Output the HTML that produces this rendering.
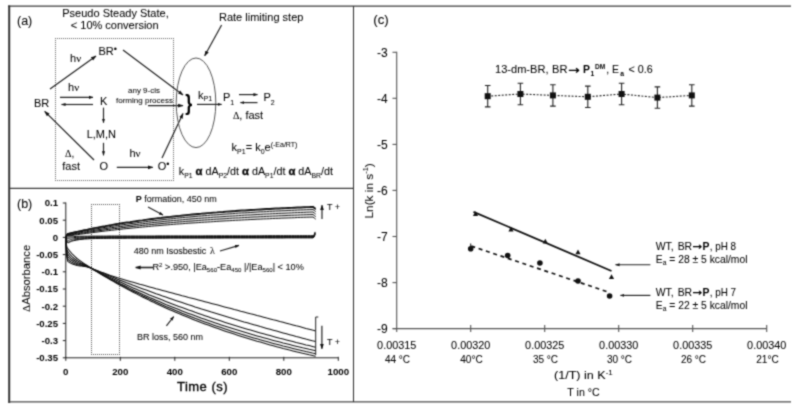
<!DOCTYPE html>
<html><head><meta charset="utf-8"><title>Figure</title>
<style>
html,body{margin:0;padding:0;background:#fff;}
body{width:800px;height:410px;overflow:hidden;}
svg{display:block;}
text{font-family:"Liberation Sans",sans-serif;fill:#000;stroke:#000;stroke-width:0.05px;}
.t11{font-size:11px;}
.t9{font-size:9px;}
.t8{font-size:8px;}
.t10{font-size:10px;}
.b{font-weight:bold;stroke-width:0;}
.bb{font-weight:bold;stroke-width:0.35px;font-size:11.5px;}
.dj{font-family:"DejaVu Sans",sans-serif;}
.sf{font-family:"Liberation Serif",serif;}
.sub{font-size:7px;}
.ln{stroke:#222;stroke-width:1;fill:none;}
</style></head><body>
<svg width="800" height="410" viewBox="0 0 800 410">
<defs>
<marker id="ah" viewBox="0 0 10 10" refX="9" refY="5" markerWidth="5.5" markerHeight="5.5" orient="auto-start-reverse" markerUnits="userSpaceOnUse"><path d="M0,1.5 L10,5 L0,8.5 z" fill="#111"/></marker>
<marker id="ahs" viewBox="0 0 10 10" refX="9" refY="5" markerWidth="4.5" markerHeight="4.5" orient="auto-start-reverse" markerUnits="userSpaceOnUse"><path d="M0,1.5 L10,5 L0,8.5 z" fill="#111"/></marker>
<filter id="soft" x="0" y="0" width="800" height="410" filterUnits="userSpaceOnUse" color-interpolation-filters="sRGB"><feConvolveMatrix order="3" kernelMatrix="0.04 0.11 0.04 0.11 0.40 0.11 0.04 0.11 0.04" edgeMode="duplicate" preserveAlpha="true"/></filter>
</defs>
<g filter="url(#soft)">
<rect x="0" y="0" width="800" height="410" fill="#fff"/>

<g id="frame">
<line x1="8" y1="6.1" x2="791" y2="6.1" stroke="#3a3a3a" stroke-width="1.4"/>
<line x1="9.2" y1="5.5" x2="9.2" y2="403" stroke="#333" stroke-width="2"/>
<line x1="8" y1="401.9" x2="791" y2="401.9" stroke="#4a4a4a" stroke-width="1.2"/>
<line x1="353.5" y1="6" x2="353.5" y2="402" stroke="#333" stroke-width="1.05"/>
<line x1="9" y1="188.4" x2="353.6" y2="188.4" stroke="#3a3a3a" stroke-width="1.1"/>
</g>
<g id="panelA">
<text x="17" y="25" font-size="12.5">(a)</text>
<text x="115.5" y="17.2" class="t11" text-anchor="middle">Pseudo Steady State,</text>
<text x="114.7" y="28.5" class="t11" text-anchor="middle">&lt; 10% conversion</text>
<path d="M55,38.5 H174" stroke="#666" stroke-width="1" stroke-dasharray="1 1" fill="none"/>
<path d="M55,180.5 H174" stroke="#666" stroke-width="1" stroke-dasharray="1 1" fill="none"/>
<path d="M55.5,38 V181" stroke="#666" stroke-width="1" stroke-dasharray="1 1" fill="none"/>
<path d="M173.5,38 V181" stroke="#666" stroke-width="1" stroke-dasharray="1 1" fill="none"/>
<text x="34" y="106.5" class="t11">BR</text>
<text x="98.5" y="54.5" class="t11">BR<tspan font-size="9" dy="-3">•</tspan></text>
<text x="70" y="62" class="t11">h<tspan font-family="Liberation Serif,serif">ν</tspan></text>
<text x="68" y="90.5" class="t11">h<tspan font-family="Liberation Serif,serif">ν</tspan></text>
<line x1="50" y1="89" x2="96" y2="56" stroke="#222" stroke-width="1.2" marker-end="url(#ah)" />
<line x1="123" y1="50" x2="183" y2="95" stroke="#222" stroke-width="1.2" marker-end="url(#ah)" />
<text x="100" y="104.6" class="t11">K</text>
<line x1="60" y1="97.4" x2="93" y2="97.4" stroke="#222" stroke-width="1.15" marker-end="url(#ahs)" />
<line x1="93" y1="104.5" x2="61.5" y2="104.5" stroke="#222" stroke-width="1.15" marker-end="url(#ahs)" />
<line x1="103.5" y1="107.6" x2="103.5" y2="122.7" stroke="#222" stroke-width="1.15" marker-end="url(#ahs)" />
<text x="86.7" y="137.8" class="t11">L,M,N</text>
<line x1="103.5" y1="142.8" x2="103.5" y2="155.4" stroke="#222" stroke-width="1.15" marker-end="url(#ahs)" />
<text x="99.5" y="170.2" class="t11">O</text>
<text x="65" y="157.4" class="t10"><tspan font-family="Liberation Serif,serif">Δ</tspan>,</text>
<text x="62.3" y="170.2" class="t11">fast</text>
<line x1="94" y1="160" x2="44.7" y2="111.4" stroke="#222" stroke-width="1.2" marker-end="url(#ah)" />
<text x="129.4" y="157.4" class="t11">h<tspan font-family="Liberation Serif,serif">ν</tspan></text>
<line x1="116.8" y1="167.4" x2="152.8" y2="167.4" stroke="#222" stroke-width="1.2" marker-end="url(#ah)" />
<text x="157.8" y="170.2" class="t11">O<tspan font-size="9" dy="-3">•</tspan></text>
<line x1="162" y1="158" x2="183" y2="113.6" stroke="#222" stroke-width="1.2" marker-end="url(#ah)" />
<text x="144" y="93" class="t8" text-anchor="middle">any 9-cis</text>
<text x="144.5" y="102.5" class="t8" text-anchor="middle">forming process</text>
<line x1="148" y1="105.6" x2="183" y2="105.6" stroke="#222" stroke-width="1.2" marker-end="url(#ah)" />
<text transform="translate(185.3,110.3) scale(0.9,1.08)" font-size="20" class="b">}</text>
<text x="261.2" y="20.6" class="t11" text-anchor="middle">Rate limiting step</text>
<line x1="221.6" y1="25" x2="204.7" y2="55.8" stroke="#222" stroke-width="1.2" marker-end="url(#ah)" />
<ellipse cx="196" cy="102.8" rx="19.8" ry="44.8" fill="none" stroke="#555" stroke-width="1"/>
<text x="198" y="98.8" class="t11">k<tspan class="sub" dy="2">P1</tspan></text>
<line x1="197" y1="104.4" x2="221.6" y2="104.4" stroke="#222" stroke-width="1.15" marker-end="url(#ahs)" />
<text x="223" y="101.4" class="t11">P<tspan class="sub" dy="3.2">1</tspan></text>
<line x1="239" y1="94.6" x2="257.5" y2="94.6" stroke="#222" stroke-width="1.15" marker-end="url(#ahs)" />
<line x1="257.5" y1="102.6" x2="240.4" y2="102.6" stroke="#222" stroke-width="1.15" marker-end="url(#ahs)" />
<text x="263.5" y="101.4" class="t11">P<tspan class="sub" dy="3.2">2</tspan></text>
<text x="232.9" y="118.9" class="t11"><tspan font-family="Liberation Serif,serif" font-size="10">Δ</tspan>, fast</text>
<text x="231.6" y="151.2" class="t11">k<tspan class="sub" dy="3.2">P1</tspan><tspan dy="-3.2">= k</tspan><tspan class="sub" dy="3.2">0</tspan><tspan dy="-3.2">e</tspan><tspan font-size="7" dy="-4">(-Ea/RT)</tspan></text>
<text x="178.8" y="175" class="t11" textLength="154.2" lengthAdjust="spacingAndGlyphs">k<tspan class="sub" dy="3.2">P1</tspan><tspan dy="-3.2"> </tspan><tspan class="bb">α</tspan> dA<tspan class="sub" dy="3.2">P2</tspan><tspan dy="-3.2">/dt </tspan><tspan class="bb">α</tspan> dA<tspan class="sub" dy="3.2">P1</tspan><tspan dy="-3.2">/dt </tspan><tspan class="bb">α</tspan> dA<tspan class="sub" dy="3.2">BR</tspan><tspan dy="-3.2">/dt</tspan></text>
</g>
<g id="panelB">
<text x="17" y="208" font-size="12.5">(b)</text>
<line x1="65.8" y1="202.5" x2="65.8" y2="357.79999999999995" class="ln"/>
<line x1="65.8" y1="357.79999999999995" x2="338.3" y2="357.79999999999995" class="ln"/>
<line x1="62.8" y1="203.0" x2="65.8" y2="203.0" class="ln"/>
<text x="58.0" y="206.4" font-size="9.6" class="b" text-anchor="end">0.1</text>
<line x1="62.8" y1="220.2" x2="65.8" y2="220.2" class="ln"/>
<text x="58.0" y="223.6" font-size="9.6" class="b" text-anchor="end">0.05</text>
<line x1="62.8" y1="237.4" x2="65.8" y2="237.4" class="ln"/>
<text x="58.0" y="240.8" font-size="9.6" class="b" text-anchor="end">0</text>
<line x1="62.8" y1="254.6" x2="65.8" y2="254.6" class="ln"/>
<text x="58.0" y="258.0" font-size="9.6" class="b" text-anchor="end">-0.05</text>
<line x1="62.8" y1="271.8" x2="65.8" y2="271.8" class="ln"/>
<text x="58.0" y="275.2" font-size="9.6" class="b" text-anchor="end">-0.1</text>
<line x1="62.8" y1="289.0" x2="65.8" y2="289.0" class="ln"/>
<text x="58.0" y="292.4" font-size="9.6" class="b" text-anchor="end">-0.15</text>
<line x1="62.8" y1="306.2" x2="65.8" y2="306.2" class="ln"/>
<text x="58.0" y="309.6" font-size="9.6" class="b" text-anchor="end">-0.2</text>
<line x1="62.8" y1="323.4" x2="65.8" y2="323.4" class="ln"/>
<text x="58.0" y="326.8" font-size="9.6" class="b" text-anchor="end">-0.25</text>
<line x1="62.8" y1="340.6" x2="65.8" y2="340.6" class="ln"/>
<text x="58.0" y="344.0" font-size="9.6" class="b" text-anchor="end">-0.3</text>
<line x1="62.8" y1="357.8" x2="65.8" y2="357.8" class="ln"/>
<text x="58.0" y="361.2" font-size="9.6" class="b" text-anchor="end">-0.35</text>
<line x1="65.8" y1="356.79999999999995" x2="65.8" y2="360.79999999999995" class="ln"/>
<text x="65.8" y="375" font-size="9.7" class="b" text-anchor="middle">0</text>
<line x1="120.3" y1="356.79999999999995" x2="120.3" y2="360.79999999999995" class="ln"/>
<text x="120.3" y="375" font-size="9.7" class="b" text-anchor="middle">200</text>
<line x1="174.8" y1="356.79999999999995" x2="174.8" y2="360.79999999999995" class="ln"/>
<text x="174.8" y="375" font-size="9.7" class="b" text-anchor="middle">400</text>
<line x1="229.3" y1="356.79999999999995" x2="229.3" y2="360.79999999999995" class="ln"/>
<text x="229.3" y="375" font-size="9.7" class="b" text-anchor="middle">600</text>
<line x1="283.8" y1="356.79999999999995" x2="283.8" y2="360.79999999999995" class="ln"/>
<text x="283.8" y="375" font-size="9.7" class="b" text-anchor="middle">800</text>
<line x1="338.3" y1="356.79999999999995" x2="338.3" y2="360.79999999999995" class="ln"/>
<text x="338.3" y="375" font-size="9.7" class="b" text-anchor="middle">1000</text>
<text x="177" y="391.2" font-size="13" textLength="50.5" style="stroke-width:0.35px">Time (s)</text>
<text transform="translate(30,312) rotate(-90)" class="t11" textLength="67.2" lengthAdjust="spacingAndGlyphs"><tspan font-family="Liberation Serif,serif">Δ</tspan>Absorbance</text>
<path d="M91,204.5 H120" stroke="#555" stroke-width="1" stroke-dasharray="1 1" fill="none"/>
<path d="M91,354.5 H120" stroke="#555" stroke-width="1" stroke-dasharray="1 1" fill="none"/>
<path d="M91.5,204 V355" stroke="#555" stroke-width="1" stroke-dasharray="1 1" fill="none"/>
<path d="M119.5,204 V355" stroke="#555" stroke-width="1" stroke-dasharray="1 1" fill="none"/>
<polyline points="65.8,237.4 66.1,236.5 66.3,235.7 66.6,235.1 66.9,234.6 67.2,234.1 67.4,233.9 67.7,233.7 68.0,233.6 71.1,232.9 74.2,232.2 77.3,231.5 80.4,230.8 83.5,230.1 86.6,229.5 89.7,228.8 92.8,228.2 95.9,227.6 99.0,227.0 102.1,226.4 105.2,225.9 108.3,225.3 111.4,224.8 114.5,224.2 117.6,223.7 120.7,223.2 123.8,222.7 126.9,222.2 130.0,221.8 133.1,221.3 136.2,220.8 139.3,220.4 142.4,220.0 145.5,219.5 148.6,219.1 151.7,218.7 154.8,218.3 157.9,217.9 161.0,217.6 164.1,217.2 167.2,216.8 170.3,216.5 173.4,216.1 176.5,215.8 179.6,215.5 182.7,215.1 185.8,214.8 188.9,214.5 192.0,214.2 195.1,213.9 198.2,213.6 201.3,213.4 204.4,213.1 207.5,212.8 210.6,212.6 213.7,212.3 216.8,212.1 219.9,211.8 223.0,211.6 226.1,211.3 229.2,211.1 232.3,210.9 235.4,210.7 238.5,210.4 241.6,210.2 244.7,210.0 247.8,209.8 250.9,209.6 254.0,209.5 257.1,209.3 260.2,209.1 263.3,208.9 266.4,208.7 269.5,208.6 272.6,208.4 275.7,208.2 278.8,208.1 281.9,207.9 285.0,207.8 288.1,207.6 291.3,207.5 294.4,207.3 297.5,207.2 300.6,207.1 303.7,206.9 306.8,206.8 309.9,206.7 313.0,206.5 314.3,207.6 315.7,208.6" fill="none" stroke="#111" stroke-width="1.25" stroke-linejoin="round"/>
<polyline points="65.8,237.4 66.1,236.6 66.3,235.8 66.6,235.2 66.9,234.7 67.2,234.3 67.4,234.0 67.7,233.8 68.0,233.8 71.1,233.1 74.2,232.4 77.3,231.7 80.4,231.1 83.5,230.4 86.6,229.8 89.7,229.2 92.8,228.5 95.9,228.0 99.0,227.4 102.1,226.8 105.2,226.3 108.3,225.7 111.4,225.2 114.5,224.7 117.6,224.2 120.7,223.7 123.8,223.2 126.9,222.7 130.0,222.3 133.1,221.8 136.2,221.4 139.3,220.9 142.4,220.5 145.5,220.1 148.6,219.7 151.7,219.3 154.8,218.9 157.9,218.5 161.0,218.2 164.1,217.8 167.2,217.4 170.3,217.1 173.4,216.8 176.5,216.4 179.6,216.1 182.7,215.8 185.8,215.5 188.9,215.2 192.0,214.9 195.1,214.6 198.2,214.3 201.3,214.0 204.4,213.8 207.5,213.5 210.6,213.2 213.7,213.0 216.8,212.7 219.9,212.5 223.0,212.3 226.1,212.0 229.2,211.8 232.3,211.6 235.4,211.4 238.5,211.2 241.6,211.0 244.7,210.8 247.8,210.6 250.9,210.4 254.0,210.2 257.1,210.0 260.2,209.8 263.3,209.6 266.4,209.5 269.5,209.3 272.6,209.1 275.7,209.0 278.8,208.8 281.9,208.7 285.0,208.5 288.1,208.4 291.3,208.2 294.4,208.1 297.5,207.9 300.6,207.8 303.7,207.7 306.8,207.5 309.9,207.4 313.0,207.3 314.3,208.3 315.7,209.4" fill="none" stroke="#111" stroke-width="1.25" stroke-linejoin="round"/>
<polyline points="65.8,237.4 66.1,236.7 66.3,236.0 66.6,235.5 66.9,235.1 67.2,234.7 67.4,234.5 67.7,234.3 68.0,234.3 71.1,233.7 74.2,233.0 77.3,232.4 80.4,231.8 83.5,231.2 86.6,230.6 89.7,230.1 92.8,229.5 95.9,229.0 99.0,228.4 102.1,227.9 105.2,227.4 108.3,226.9 111.4,226.4 114.5,225.9 117.6,225.5 120.7,225.0 123.8,224.6 126.9,224.1 130.0,223.7 133.1,223.3 136.2,222.9 139.3,222.4 142.4,222.1 145.5,221.7 148.6,221.3 151.7,220.9 154.8,220.6 157.9,220.2 161.0,219.9 164.1,219.5 167.2,219.2 170.3,218.9 173.4,218.6 176.5,218.2 179.6,217.9 182.7,217.6 185.8,217.3 188.9,217.1 192.0,216.8 195.1,216.5 198.2,216.2 201.3,216.0 204.4,215.7 207.5,215.5 210.6,215.2 213.7,215.0 216.8,214.8 219.9,214.5 223.0,214.3 226.1,214.1 229.2,213.9 232.3,213.7 235.4,213.4 238.5,213.2 241.6,213.0 244.7,212.9 247.8,212.7 250.9,212.5 254.0,212.3 257.1,212.1 260.2,211.9 263.3,211.8 266.4,211.6 269.5,211.4 272.6,211.3 275.7,211.1 278.8,211.0 281.9,210.8 285.0,210.7 288.1,210.5 291.3,210.4 294.4,210.3 297.5,210.1 300.6,210.0 303.7,209.9 306.8,209.7 309.9,209.6 313.0,209.5 314.3,210.5 315.7,211.6" fill="none" stroke="#111" stroke-width="1.0" stroke-linejoin="round"/>
<polyline points="65.8,237.4 66.1,236.8 66.3,236.3 66.6,235.9 66.9,235.5 67.2,235.2 67.4,235.0 67.7,234.9 68.0,234.9 71.1,234.3 74.2,233.7 77.3,233.2 80.4,232.6 83.5,232.1 86.6,231.6 89.7,231.1 92.8,230.6 95.9,230.1 99.0,229.6 102.1,229.1 105.2,228.6 108.3,228.2 111.4,227.7 114.5,227.3 117.6,226.9 120.7,226.5 123.8,226.1 126.9,225.7 130.0,225.3 133.1,224.9 136.2,224.5 139.3,224.1 142.4,223.8 145.5,223.4 148.6,223.1 151.7,222.7 154.8,222.4 157.9,222.1 161.0,221.8 164.1,221.4 167.2,221.1 170.3,220.8 173.4,220.5 176.5,220.3 179.6,220.0 182.7,219.7 185.8,219.4 188.9,219.2 192.0,218.9 195.1,218.6 198.2,218.4 201.3,218.2 204.4,217.9 207.5,217.7 210.6,217.5 213.7,217.2 216.8,217.0 219.9,216.8 223.0,216.6 226.1,216.4 229.2,216.2 232.3,216.0 235.4,215.8 238.5,215.6 241.6,215.4 244.7,215.2 247.8,215.0 250.9,214.9 254.0,214.7 257.1,214.5 260.2,214.4 263.3,214.2 266.4,214.0 269.5,213.9 272.6,213.7 275.7,213.6 278.8,213.4 281.9,213.3 285.0,213.2 288.1,213.0 291.3,212.9 294.4,212.7 297.5,212.6 300.6,212.5 303.7,212.4 306.8,212.2 309.9,212.1 313.0,212.0 314.3,213.0 315.7,214.1" fill="none" stroke="#111" stroke-width="1.0" stroke-linejoin="round"/>
<polyline points="65.8,237.4 66.1,236.9 66.3,236.5 66.6,236.2 66.9,235.9 67.2,235.7 67.4,235.6 67.7,235.5 68.0,235.4 71.1,234.9 74.2,234.4 77.3,233.9 80.4,233.4 83.5,233.0 86.6,232.5 89.7,232.0 92.8,231.6 95.9,231.1 99.0,230.7 102.1,230.3 105.2,229.8 108.3,229.4 111.4,229.0 114.5,228.6 117.6,228.3 120.7,227.9 123.8,227.5 126.9,227.1 130.0,226.8 133.1,226.4 136.2,226.1 139.3,225.8 142.4,225.4 145.5,225.1 148.6,224.8 151.7,224.5 154.8,224.2 157.9,223.9 161.0,223.6 164.1,223.3 167.2,223.0 170.3,222.7 173.4,222.5 176.5,222.2 179.6,221.9 182.7,221.7 185.8,221.4 188.9,221.2 192.0,221.0 195.1,220.7 198.2,220.5 201.3,220.3 204.4,220.0 207.5,219.8 210.6,219.6 213.7,219.4 216.8,219.2 219.9,219.0 223.0,218.8 226.1,218.6 229.2,218.4 232.3,218.2 235.4,218.0 238.5,217.9 241.6,217.7 244.7,217.5 247.8,217.4 250.9,217.2 254.0,217.0 257.1,216.9 260.2,216.7 263.3,216.6 266.4,216.4 269.5,216.3 272.6,216.1 275.7,216.0 278.8,215.8 281.9,215.7 285.0,215.6 288.1,215.4 291.3,215.3 294.4,215.2 297.5,215.1 300.6,214.9 303.7,214.8 306.8,214.7 309.9,214.6 313.0,214.5 314.3,215.5 315.7,216.6" fill="none" stroke="#111" stroke-width="1.0" stroke-linejoin="round"/>
<polyline points="65.8,237.4 66.1,237.1 66.3,236.8 66.6,236.6 66.9,236.4 67.2,236.2 67.4,236.1 67.7,236.0 68.0,236.0 71.1,235.6 74.2,235.1 77.3,234.7 80.4,234.2 83.5,233.8 86.6,233.4 89.7,233.0 92.8,232.6 95.9,232.2 99.0,231.8 102.1,231.4 105.2,231.0 108.3,230.7 111.4,230.3 114.5,230.0 117.6,229.6 120.7,229.3 123.8,228.9 126.9,228.6 130.0,228.3 133.1,228.0 136.2,227.7 139.3,227.4 142.4,227.1 145.5,226.8 148.6,226.5 151.7,226.2 154.8,225.9 157.9,225.7 161.0,225.4 164.1,225.1 167.2,224.9 170.3,224.6 173.4,224.4 176.5,224.1 179.6,223.9 182.7,223.7 185.8,223.4 188.9,223.2 192.0,223.0 195.1,222.8 198.2,222.6 201.3,222.4 204.4,222.2 207.5,222.0 210.6,221.8 213.7,221.6 216.8,221.4 219.9,221.2 223.0,221.0 226.1,220.8 229.2,220.7 232.3,220.5 235.4,220.3 238.5,220.2 241.6,220.0 244.7,219.8 247.8,219.7 250.9,219.5 254.0,219.4 257.1,219.2 260.2,219.1 263.3,218.9 266.4,218.8 269.5,218.7 272.6,218.5 275.7,218.4 278.8,218.3 281.9,218.1 285.0,218.0 288.1,217.9 291.3,217.8 294.4,217.7 297.5,217.5 300.6,217.4 303.7,217.3 306.8,217.2 309.9,217.1 313.0,217.0 314.3,218.0 315.7,219.1" fill="none" stroke="#111" stroke-width="1.0" stroke-linejoin="round"/>
<polyline points="65.8,237.4 66.1,237.3 66.5,237.2 66.8,237.1 67.2,237.1 67.5,237.1 67.8,237.1 68.2,237.0 68.5,237.0 68.9,237.0 69.2,236.9 69.5,236.9 69.9,236.9 70.2,236.8 70.6,236.8 70.9,236.8 71.2,236.8 71.6,236.7 71.9,236.7 72.3,236.7 72.6,236.7 73.0,236.6 73.3,236.6 73.6,236.6 74.0,236.6 76.7,236.4 79.3,236.3 82.0,236.3 84.7,236.2 87.4,236.2 90.1,236.1 92.8,236.1 95.5,236.1 98.1,236.1 100.8,236.1 103.5,236.1 106.2,236.1 108.9,236.0 111.6,236.0 114.3,236.0 116.9,236.0 119.6,236.0 122.3,236.0 125.0,236.0 127.7,236.0 130.4,236.0 133.0,236.0 135.7,236.0 138.4,236.0 141.1,236.0 143.8,236.0 146.5,236.0 149.2,236.0 151.8,236.0 154.5,236.0 157.2,235.9 159.9,235.9 162.6,235.9 165.3,235.9 168.0,235.9 170.6,235.9 173.3,235.9 176.0,235.9 178.7,235.9 181.4,235.9 184.1,235.9 186.8,235.9 189.4,235.9 192.1,235.9 194.8,235.9 197.5,235.9 200.2,235.9 202.9,235.9 205.5,235.8 208.2,235.8 210.9,235.8 213.6,235.8 216.3,235.8 219.0,235.8 221.7,235.8 224.3,235.8 227.0,235.8 229.7,235.8 232.4,235.8 235.1,235.8 237.8,235.8 240.5,235.8 243.1,235.8 245.8,235.8 248.5,235.8 251.2,235.8 253.9,235.8 256.6,235.8 259.3,235.8 261.9,235.8 264.6,235.7 267.3,235.7 270.0,235.7 272.7,235.7 275.4,235.7 278.0,235.7 280.7,235.7 283.4,235.7 286.1,235.7 288.8,235.7 291.5,235.7 294.2,235.7 296.8,235.7 299.5,235.7 302.2,235.7 304.9,235.7 307.6,235.7 310.3,235.7 313.0,235.7 314.3,234.6 315.1,231.9" fill="none" stroke="#111" stroke-width="1.0" stroke-linejoin="round"/>
<polyline points="65.8,237.4 66.1,237.7 66.5,238.0 66.8,238.2 67.2,238.3 67.5,238.4 67.8,238.4 68.2,238.4 68.5,238.4 68.9,238.4 69.2,238.3 69.5,238.2 69.9,238.2 70.2,238.1 70.6,238.0 70.9,238.0 71.2,237.9 71.6,237.9 71.9,237.9 72.3,237.8 72.6,237.8 73.0,237.7 73.3,237.7 73.6,237.7 74.0,237.6 76.7,237.4 79.3,237.2 82.0,237.1 84.7,237.0 87.4,236.9 90.1,236.9 92.8,236.8 95.5,236.8 98.1,236.8 100.8,236.8 103.5,236.8 106.2,236.8 108.9,236.7 111.6,236.7 114.3,236.7 116.9,236.7 119.6,236.7 122.3,236.7 125.0,236.7 127.7,236.7 130.4,236.7 133.0,236.7 135.7,236.7 138.4,236.7 141.1,236.7 143.8,236.7 146.5,236.7 149.2,236.6 151.8,236.6 154.5,236.6 157.2,236.6 159.9,236.6 162.6,236.6 165.3,236.6 168.0,236.6 170.6,236.6 173.3,236.6 176.0,236.6 178.7,236.6 181.4,236.6 184.1,236.6 186.8,236.6 189.4,236.6 192.1,236.6 194.8,236.6 197.5,236.5 200.2,236.5 202.9,236.5 205.5,236.5 208.2,236.5 210.9,236.5 213.6,236.5 216.3,236.5 219.0,236.5 221.7,236.5 224.3,236.5 227.0,236.5 229.7,236.5 232.4,236.5 235.1,236.5 237.8,236.5 240.5,236.5 243.1,236.5 245.8,236.5 248.5,236.5 251.2,236.5 253.9,236.5 256.6,236.4 259.3,236.4 261.9,236.4 264.6,236.4 267.3,236.4 270.0,236.4 272.7,236.4 275.4,236.4 278.0,236.4 280.7,236.4 283.4,236.4 286.1,236.4 288.8,236.4 291.5,236.4 294.2,236.4 296.8,236.4 299.5,236.4 302.2,236.4 304.9,236.4 307.6,236.4 310.3,236.4 313.0,236.4 314.3,235.3 315.1,232.6" fill="none" stroke="#111" stroke-width="1.0" stroke-linejoin="round"/>
<polyline points="65.8,237.4 66.1,238.4 66.5,239.1 66.8,239.7 67.2,240.0 67.5,240.2 67.8,240.3 68.2,240.3 68.5,240.3 68.9,240.2 69.2,240.1 69.5,240.0 69.9,239.9 70.2,239.7 70.6,239.6 70.9,239.5 71.2,239.4 71.6,239.4 71.9,239.3 72.3,239.2 72.6,239.1 73.0,239.1 73.3,239.0 73.6,238.9 74.0,238.9 76.7,238.5 79.3,238.2 82.0,237.9 84.7,237.8 87.4,237.6 90.1,237.5 92.8,237.5 95.5,237.4 98.1,237.4 100.8,237.3 103.5,237.3 106.2,237.3 108.9,237.3 111.6,237.3 114.3,237.3 116.9,237.3 119.6,237.2 122.3,237.2 125.0,237.2 127.7,237.2 130.4,237.2 133.0,237.2 135.7,237.2 138.4,237.2 141.1,237.2 143.8,237.2 146.5,237.2 149.2,237.2 151.8,237.2 154.5,237.1 157.2,237.1 159.9,237.1 162.6,237.1 165.3,237.1 168.0,237.1 170.6,237.1 173.3,237.1 176.0,237.1 178.7,237.1 181.4,237.1 184.1,237.1 186.8,237.1 189.4,237.1 192.1,237.1 194.8,237.1 197.5,237.1 200.2,237.1 202.9,237.1 205.5,237.0 208.2,237.0 210.9,237.0 213.6,237.0 216.3,237.0 219.0,237.0 221.7,237.0 224.3,237.0 227.0,237.0 229.7,237.0 232.4,237.0 235.1,237.0 237.8,237.0 240.5,237.0 243.1,237.0 245.8,237.0 248.5,237.0 251.2,237.0 253.9,237.0 256.6,237.0 259.3,237.0 261.9,237.0 264.6,236.9 267.3,236.9 270.0,236.9 272.7,236.9 275.4,236.9 278.0,236.9 280.7,236.9 283.4,236.9 286.1,236.9 288.8,236.9 291.5,236.9 294.2,236.9 296.8,236.9 299.5,236.9 302.2,236.9 304.9,236.9 307.6,236.9 310.3,236.9 313.0,236.9 314.3,235.9 315.1,233.1" fill="none" stroke="#111" stroke-width="1.0" stroke-linejoin="round"/>
<polyline points="65.8,237.4 66.1,239.0 66.5,240.3 66.8,241.1 67.2,241.6 67.5,242.0 67.8,242.2 68.2,242.2 68.5,242.1 68.9,242.0 69.2,241.9 69.5,241.7 69.9,241.6 70.2,241.4 70.6,241.2 70.9,241.0 71.2,240.9 71.6,240.8 71.9,240.7 72.3,240.6 72.6,240.5 73.0,240.4 73.3,240.3 73.6,240.2 74.0,240.1 76.7,239.5 79.3,239.1 82.0,238.8 84.7,238.5 87.4,238.3 90.1,238.2 92.8,238.1 95.5,238.0 98.1,237.9 100.8,237.9 103.5,237.9 106.2,237.9 108.9,237.8 111.6,237.8 114.3,237.8 116.9,237.8 119.6,237.8 122.3,237.8 125.0,237.7 127.7,237.7 130.4,237.7 133.0,237.7 135.7,237.7 138.4,237.7 141.1,237.7 143.8,237.7 146.5,237.7 149.2,237.7 151.8,237.7 154.5,237.7 157.2,237.7 159.9,237.6 162.6,237.6 165.3,237.6 168.0,237.6 170.6,237.6 173.3,237.6 176.0,237.6 178.7,237.6 181.4,237.6 184.1,237.6 186.8,237.6 189.4,237.6 192.1,237.6 194.8,237.6 197.5,237.6 200.2,237.6 202.9,237.6 205.5,237.6 208.2,237.6 210.9,237.6 213.6,237.6 216.3,237.5 219.0,237.5 221.7,237.5 224.3,237.5 227.0,237.5 229.7,237.5 232.4,237.5 235.1,237.5 237.8,237.5 240.5,237.5 243.1,237.5 245.8,237.5 248.5,237.5 251.2,237.5 253.9,237.5 256.6,237.5 259.3,237.5 261.9,237.5 264.6,237.5 267.3,237.5 270.0,237.5 272.7,237.5 275.4,237.4 278.0,237.4 280.7,237.4 283.4,237.4 286.1,237.4 288.8,237.4 291.5,237.4 294.2,237.4 296.8,237.4 299.5,237.4 302.2,237.4 304.9,237.4 307.6,237.4 310.3,237.4 313.0,237.4 314.3,236.4 315.1,233.6" fill="none" stroke="#111" stroke-width="1.0" stroke-linejoin="round"/>
<polyline points="65.8,237.4 66.1,239.1 66.5,240.6 66.8,241.5 67.2,242.1 67.5,242.5 67.8,242.7 68.2,242.7 68.5,242.7 68.9,242.6 69.2,242.4 69.5,242.2 69.9,242.1 70.2,241.9 70.6,241.7 70.9,241.6 71.2,241.4 71.6,241.3 71.9,241.2 72.3,241.1 72.6,241.0 73.0,240.9 73.3,240.8 73.6,240.7 74.0,240.6 76.7,240.1 79.3,239.6 82.0,239.3 84.7,239.0 87.4,238.9 90.1,238.7 92.8,238.6 95.5,238.5 98.1,238.5 100.8,238.4 103.5,238.4 106.2,238.4 108.9,238.3 111.6,238.3 114.3,238.3 116.9,238.3 119.6,238.3 122.3,238.3 125.0,238.3 127.7,238.2 130.4,238.2 133.0,238.2 135.7,238.2 138.4,238.2 141.1,238.2 143.8,238.2 146.5,238.2 149.2,238.2 151.8,238.2 154.5,238.2 157.2,238.2 159.9,238.2 162.6,238.2 165.3,238.2 168.0,238.1 170.6,238.1 173.3,238.1 176.0,238.1 178.7,238.1 181.4,238.1 184.1,238.1 186.8,238.1 189.4,238.1 192.1,238.1 194.8,238.1 197.5,238.1 200.2,238.1 202.9,238.1 205.5,238.1 208.2,238.1 210.9,238.1 213.6,238.1 216.3,238.1 219.0,238.1 221.7,238.1 224.3,238.0 227.0,238.0 229.7,238.0 232.4,238.0 235.1,238.0 237.8,238.0 240.5,238.0 243.1,238.0 245.8,238.0 248.5,238.0 251.2,238.0 253.9,238.0 256.6,238.0 259.3,238.0 261.9,238.0 264.6,238.0 267.3,238.0 270.0,238.0 272.7,238.0 275.4,238.0 278.0,238.0 280.7,238.0 283.4,238.0 286.1,237.9 288.8,237.9 291.5,237.9 294.2,237.9 296.8,237.9 299.5,237.9 302.2,237.9 304.9,237.9 307.6,237.9 310.3,237.9 313.0,237.9 314.3,236.9 315.1,234.1" fill="none" stroke="#111" stroke-width="1.0" stroke-linejoin="round"/>
<polyline points="65.8,237.4 66.1,246.9 66.5,253.9 66.8,257.0 67.2,259.0 67.5,260.5 67.8,261.3 68.2,261.6 68.5,261.9 68.9,262.1 69.2,262.3 69.5,262.5 69.9,262.7 70.2,262.9 70.6,263.1 70.9,263.3 71.2,263.4 71.6,263.6 71.9,263.8 72.3,263.9 72.6,264.0 73.0,264.2 73.3,264.3 73.6,264.4 74.0,264.5 75.5,265.0 77.0,265.4 78.6,265.7 80.1,265.9 81.7,266.1 83.2,266.3 84.7,266.6 86.3,266.8 87.8,267.1 89.3,267.5 90.9,268.0 94.1,269.4 97.4,270.7 100.6,271.9 103.9,273.1 107.2,274.3 110.4,275.4 113.7,276.4 116.9,277.5 120.2,278.5 123.5,279.5 126.7,280.4 130.0,281.4 133.2,282.3 136.5,283.2 139.7,284.2 143.0,285.1 146.3,286.0 149.5,286.9 152.8,287.8 156.0,288.7 159.3,289.5 162.5,290.4 165.8,291.3 169.1,292.2 172.3,293.0 175.6,293.9 178.8,294.8 182.1,295.7 185.4,296.5 188.6,297.4 191.9,298.2 195.1,299.1 198.4,300.0 201.6,300.8 204.9,301.7 208.2,302.6 211.4,303.4 214.7,304.3 217.9,305.1 221.2,306.0 224.5,306.9 227.7,307.7 231.0,308.6 234.2,309.5 237.5,310.3 240.7,311.2 244.0,312.0 247.3,312.9 250.5,313.8 253.8,314.6 257.0,315.5 260.3,316.3 263.6,317.2 266.8,318.1 270.1,318.9 273.3,319.8 276.6,320.6 279.8,321.5 283.1,322.3 286.4,323.2 289.6,324.1 292.9,324.9 296.1,325.8 299.4,326.6 302.6,327.5 305.9,328.4 309.2,329.2 312.4,330.1 315.7,330.9" fill="none" stroke="#111" stroke-width="1.05" stroke-linejoin="round"/>
<polyline points="65.8,237.4 66.1,246.1 66.5,252.5 66.8,255.3 67.2,257.1 67.5,258.5 67.8,259.2 68.2,259.6 68.5,259.9 68.9,260.2 69.2,260.5 69.5,260.7 69.9,261.0 70.2,261.2 70.6,261.5 70.9,261.7 71.2,261.9 71.6,262.1 71.9,262.3 72.3,262.5 72.6,262.7 73.0,262.9 73.3,263.1 73.6,263.2 74.0,263.4 75.5,264.0 77.0,264.5 78.6,264.9 80.1,265.3 81.7,265.6 83.2,265.9 84.7,266.2 86.3,266.6 87.8,267.0 89.3,267.4 90.9,268.0 94.1,269.4 97.4,270.8 100.6,272.2 103.9,273.6 107.2,274.9 110.4,276.3 113.7,277.6 116.9,278.9 120.2,280.2 123.5,281.5 126.7,282.8 130.0,284.0 133.2,285.3 136.5,286.5 139.7,287.7 143.0,288.9 146.3,290.1 149.5,291.3 152.8,292.5 156.0,293.7 159.3,294.8 162.5,296.0 165.8,297.1 169.1,298.2 172.3,299.3 175.6,300.4 178.8,301.5 182.1,302.6 185.4,303.7 188.6,304.8 191.9,305.8 195.1,306.9 198.4,307.9 201.6,309.0 204.9,310.0 208.2,311.0 211.4,312.1 214.7,313.1 217.9,314.1 221.2,315.1 224.5,316.1 227.7,317.0 231.0,318.0 234.2,319.0 237.5,320.0 240.7,320.9 244.0,321.9 247.3,322.8 250.5,323.8 253.8,324.7 257.0,325.6 260.3,326.6 263.6,327.5 266.8,328.4 270.1,329.3 273.3,330.2 276.6,331.1 279.8,332.0 283.1,332.9 286.4,333.8 289.6,334.7 292.9,335.6 296.1,336.5 299.4,337.3 302.6,338.2 305.9,339.1 309.2,339.9 312.4,340.8 315.7,341.6" fill="none" stroke="#111" stroke-width="1.05" stroke-linejoin="round"/>
<polyline points="65.8,237.4 66.1,245.1 66.5,250.9 66.8,253.3 67.2,254.9 67.5,256.1 67.8,256.8 68.2,257.2 68.5,257.6 68.9,257.9 69.2,258.3 69.5,258.6 69.9,258.9 70.2,259.2 70.6,259.5 70.9,259.8 71.2,260.1 71.6,260.3 71.9,260.6 72.3,260.8 72.6,261.0 73.0,261.3 73.3,261.5 73.6,261.7 74.0,261.9 75.5,262.7 77.0,263.4 78.6,264.0 80.1,264.5 81.7,264.9 83.2,265.3 84.7,265.8 86.3,266.2 87.8,266.7 89.3,267.3 90.9,268.0 94.1,269.7 97.4,271.3 100.6,272.9 103.9,274.5 107.2,276.0 110.4,277.6 113.7,279.1 116.9,280.6 120.2,282.1 123.5,283.6 126.7,285.1 130.0,286.5 133.2,287.9 136.5,289.3 139.7,290.7 143.0,292.1 146.3,293.5 149.5,294.9 152.8,296.2 156.0,297.5 159.3,298.8 162.5,300.1 165.8,301.4 169.1,302.7 172.3,303.9 175.6,305.2 178.8,306.4 182.1,307.6 185.4,308.8 188.6,310.0 191.9,311.1 195.1,312.3 198.4,313.4 201.6,314.6 204.9,315.7 208.2,316.8 211.4,317.9 214.7,319.0 217.9,320.0 221.2,321.1 224.5,322.2 227.7,323.2 231.0,324.2 234.2,325.2 237.5,326.2 240.7,327.2 244.0,328.2 247.3,329.2 250.5,330.1 253.8,331.1 257.0,332.0 260.3,332.9 263.6,333.8 266.8,334.7 270.1,335.6 273.3,336.5 276.6,337.4 279.8,338.3 283.1,339.1 286.4,340.0 289.6,340.8 292.9,341.6 296.1,342.5 299.4,343.3 302.6,344.1 305.9,344.9 309.2,345.6 312.4,346.4 315.7,347.2" fill="none" stroke="#111" stroke-width="1.05" stroke-linejoin="round"/>
<polyline points="65.8,237.4 66.1,244.2 66.5,249.2 66.8,251.4 67.2,252.7 67.5,253.7 67.8,254.4 68.2,254.9 68.5,255.3 68.9,255.7 69.2,256.0 69.5,256.4 69.9,256.8 70.2,257.1 70.6,257.5 70.9,257.8 71.2,258.1 71.6,258.4 71.9,258.7 72.3,259.0 72.6,259.3 73.0,259.5 73.3,259.8 73.6,260.0 74.0,260.3 75.5,261.3 77.0,262.1 78.6,262.9 80.1,263.5 81.7,264.1 83.2,264.7 84.7,265.3 86.3,265.9 87.8,266.5 89.3,267.2 90.9,268.0 94.1,269.8 97.4,271.6 100.6,273.4 103.9,275.2 107.2,276.9 110.4,278.6 113.7,280.3 116.9,281.9 120.2,283.6 123.5,285.2 126.7,286.8 130.0,288.4 133.2,289.9 136.5,291.5 139.7,293.0 143.0,294.5 146.3,295.9 149.5,297.4 152.8,298.8 156.0,300.2 159.3,301.6 162.5,303.0 165.8,304.4 169.1,305.7 172.3,307.0 175.6,308.3 178.8,309.6 182.1,310.9 185.4,312.2 188.6,313.4 191.9,314.6 195.1,315.8 198.4,317.0 201.6,318.2 204.9,319.3 208.2,320.5 211.4,321.6 214.7,322.7 217.9,323.8 221.2,324.9 224.5,326.0 227.7,327.0 231.0,328.1 234.2,329.1 237.5,330.1 240.7,331.1 244.0,332.1 247.3,333.1 250.5,334.0 253.8,335.0 257.0,335.9 260.3,336.8 263.6,337.7 266.8,338.6 270.1,339.5 273.3,340.4 276.6,341.3 279.8,342.1 283.1,343.0 286.4,343.8 289.6,344.6 292.9,345.4 296.1,346.2 299.4,347.0 302.6,347.8 305.9,348.5 309.2,349.3 312.4,350.0 315.7,350.8" fill="none" stroke="#111" stroke-width="1.05" stroke-linejoin="round"/>
<polyline points="65.8,237.4 66.1,243.1 66.5,247.3 66.8,249.1 67.2,250.2 67.5,251.1 67.8,251.7 68.2,252.1 68.5,252.6 68.9,253.0 69.2,253.4 69.5,253.8 69.9,254.2 70.2,254.6 70.6,255.0 70.9,255.4 71.2,255.7 71.6,256.1 71.9,256.4 72.3,256.7 72.6,257.1 73.0,257.4 73.3,257.7 73.6,258.0 74.0,258.3 75.5,259.5 77.0,260.5 78.6,261.5 80.1,262.4 81.7,263.2 83.2,263.9 84.7,264.7 86.3,265.4 87.8,266.2 89.3,267.1 90.9,268.0 94.1,270.0 97.4,271.9 100.6,273.8 103.9,275.6 107.2,277.5 110.4,279.3 113.7,281.1 116.9,282.8 120.2,284.5 123.5,286.2 126.7,287.9 130.0,289.6 133.2,291.2 136.5,292.8 139.7,294.4 143.0,296.0 146.3,297.5 149.5,299.1 152.8,300.6 156.0,302.1 159.3,303.5 162.5,304.9 165.8,306.4 169.1,307.8 172.3,309.1 175.6,310.5 178.8,311.8 182.1,313.2 185.4,314.5 188.6,315.7 191.9,317.0 195.1,318.3 198.4,319.5 201.6,320.7 204.9,321.9 208.2,323.1 211.4,324.2 214.7,325.4 217.9,326.5 221.2,327.6 224.5,328.7 227.7,329.8 231.0,330.9 234.2,331.9 237.5,332.9 240.7,334.0 244.0,335.0 247.3,336.0 250.5,336.9 253.8,337.9 257.0,338.8 260.3,339.8 263.6,340.7 266.8,341.6 270.1,342.5 273.3,343.4 276.6,344.3 279.8,345.1 283.1,346.0 286.4,346.8 289.6,347.6 292.9,348.4 296.1,349.2 299.4,350.0 302.6,350.8 305.9,351.6 309.2,352.3 312.4,353.1 315.7,353.8" fill="none" stroke="#111" stroke-width="1.05" stroke-linejoin="round"/>
<polyline points="65.8,237.4 66.1,241.9 66.5,245.2 66.8,246.6 67.2,247.5 67.5,248.1 67.8,248.6 68.2,249.0 68.5,249.5 68.9,249.9 69.2,250.4 69.5,250.8 69.9,251.2 70.2,251.6 70.6,252.0 70.9,252.4 71.2,252.8 71.6,253.2 71.9,253.6 72.3,254.0 72.6,254.3 73.0,254.7 73.3,255.0 73.6,255.4 74.0,255.7 75.5,257.1 77.0,258.5 78.6,259.7 80.1,260.8 81.7,261.9 83.2,263.0 84.7,264.0 86.3,265.0 87.8,266.0 89.3,267.0 90.9,268.0 94.1,270.1 97.4,272.1 100.6,274.0 103.9,276.0 107.2,277.9 110.4,279.8 113.7,281.6 116.9,283.5 120.2,285.3 123.5,287.1 126.7,288.8 130.0,290.5 133.2,292.2 136.5,293.9 139.7,295.6 143.0,297.2 146.3,298.8 149.5,300.4 152.8,301.9 156.0,303.5 159.3,305.0 162.5,306.5 165.8,307.9 169.1,309.4 172.3,310.8 175.6,312.2 178.8,313.6 182.1,314.9 185.4,316.3 188.6,317.6 191.9,318.9 195.1,320.2 198.4,321.4 201.6,322.7 204.9,323.9 208.2,325.1 211.4,326.3 214.7,327.5 217.9,328.6 221.2,329.7 224.5,330.9 227.7,332.0 231.0,333.1 234.2,334.1 237.5,335.2 240.7,336.2 244.0,337.2 247.3,338.2 250.5,339.2 253.8,340.2 257.0,341.2 260.3,342.1 263.6,343.1 266.8,344.0 270.1,344.9 273.3,345.8 276.6,346.7 279.8,347.5 283.1,348.4 286.4,349.2 289.6,350.1 292.9,350.9 296.1,351.7 299.4,352.5 302.6,353.3 305.9,354.0 309.2,354.8 312.4,355.5 315.7,356.3" fill="none" stroke="#111" stroke-width="1.05" stroke-linejoin="round"/>
<text x="135.7" y="202.2" class="t9"><tspan class="b">P</tspan> formation, 450 nm</text>
<line x1="148" y1="207" x2="163" y2="215" stroke="#222" stroke-width="1.15" marker-end="url(#ahs)" />
<text x="133.7" y="253.6" class="t9">480 nm Isosbestic</text><text x="210" y="253.6" font-size="10" class="sf">λ</text>
<line x1="220" y1="251" x2="239" y2="245.4" stroke="#222" stroke-width="1.15" marker-end="url(#ahs)" />
<line x1="153" y1="267.5" x2="135.7" y2="267.5" stroke="#222" stroke-width="1.6" marker-end="url(#ah)" />
<text x="152.5" y="270" class="t9" textLength="151.3" lengthAdjust="spacingAndGlyphs">R<tspan font-size="6" dy="-3">2</tspan><tspan dy="3"> &gt;.950, |Ea</tspan><tspan font-size="6" dy="1.5">560</tspan><tspan dy="-1.5">-Ea</tspan><tspan font-size="6" dy="1.5">450</tspan><tspan dy="-1.5"> |/|Ea</tspan><tspan font-size="6" dy="1.5">560</tspan><tspan dy="-1.5">| &lt; 10%</tspan></text>
<text x="137" y="340.4" class="t9">BR loss, 560 nm</text>
<line x1="166.4" y1="325.8" x2="173.7" y2="316.7" stroke="#222" stroke-width="1.15" marker-end="url(#ahs)" />
<line x1="322" y1="219" x2="322" y2="205.2" stroke="#222" stroke-width="1.2" marker-end="url(#ah)" />
<text x="327" y="210.2" class="t9">T +</text>
<path d="M318.3,317 h-2.6 V355" class="ln"/>
<line x1="321.9" y1="325.8" x2="321.9" y2="348.8" stroke="#222" stroke-width="1.2" marker-end="url(#ah)" />
<text x="327" y="344.8" class="t9">T +</text>
</g>
<g id="panelC">
<text x="373.3" y="23.7" font-size="12.5" textLength="15.5" lengthAdjust="spacingAndGlyphs">(c)</text>
<line x1="396.7" y1="51.8" x2="396.7" y2="332.09999999999997" stroke="#555" stroke-width="1.1"/>
<line x1="392.7" y1="328.59999999999997" x2="766.7" y2="328.59999999999997" stroke="#555" stroke-width="1.1"/>
<line x1="392.5" y1="52.3" x2="396.7" y2="52.3" stroke="#555" stroke-width="1.1"/>
<text x="387.7" y="56.5" font-size="12" text-anchor="end">-3</text>
<line x1="392.5" y1="98.3" x2="396.7" y2="98.3" stroke="#555" stroke-width="1.1"/>
<text x="387.7" y="102.5" font-size="12" text-anchor="end">-4</text>
<line x1="392.5" y1="144.4" x2="396.7" y2="144.4" stroke="#555" stroke-width="1.1"/>
<text x="387.7" y="148.6" font-size="12" text-anchor="end">-5</text>
<line x1="392.5" y1="190.4" x2="396.7" y2="190.4" stroke="#555" stroke-width="1.1"/>
<text x="387.7" y="194.6" font-size="12" text-anchor="end">-6</text>
<line x1="392.5" y1="236.5" x2="396.7" y2="236.5" stroke="#555" stroke-width="1.1"/>
<text x="387.7" y="240.7" font-size="12" text-anchor="end">-7</text>
<line x1="392.5" y1="282.6" x2="396.7" y2="282.6" stroke="#555" stroke-width="1.1"/>
<text x="387.7" y="286.8" font-size="12" text-anchor="end">-8</text>
<line x1="392.5" y1="328.6" x2="396.7" y2="328.6" stroke="#555" stroke-width="1.1"/>
<text x="387.7" y="332.8" font-size="12" text-anchor="end">-9</text>
<text x="377.1" y="348.8" font-size="10.4" textLength="39.3" lengthAdjust="spacingAndGlyphs">0.00315</text>
<text x="384.9" y="362.5" font-size="10" textLength="25.2" lengthAdjust="spacingAndGlyphs">44 °C</text>
<line x1="470.7" y1="325.09999999999997" x2="470.7" y2="332.09999999999997" stroke="#555" stroke-width="1.1"/>
<text x="451.1" y="348.8" font-size="10.4" textLength="39.3" lengthAdjust="spacingAndGlyphs">0.00320</text>
<text x="460.2" y="362.5" font-size="10" textLength="22.5" lengthAdjust="spacingAndGlyphs">40°C</text>
<line x1="544.7" y1="325.09999999999997" x2="544.7" y2="332.09999999999997" stroke="#555" stroke-width="1.1"/>
<text x="525.1" y="348.8" font-size="10.4" textLength="39.3" lengthAdjust="spacingAndGlyphs">0.00325</text>
<text x="532.9" y="362.5" font-size="10" textLength="25.2" lengthAdjust="spacingAndGlyphs">35 °C</text>
<line x1="618.7" y1="325.09999999999997" x2="618.7" y2="332.09999999999997" stroke="#555" stroke-width="1.1"/>
<text x="599.1" y="348.8" font-size="10.4" textLength="39.3" lengthAdjust="spacingAndGlyphs">0.00330</text>
<text x="606.9" y="362.5" font-size="10" textLength="25.2" lengthAdjust="spacingAndGlyphs">30 °C</text>
<line x1="692.7" y1="325.09999999999997" x2="692.7" y2="332.09999999999997" stroke="#555" stroke-width="1.1"/>
<text x="673.1" y="348.8" font-size="10.4" textLength="39.3" lengthAdjust="spacingAndGlyphs">0.00335</text>
<text x="680.9" y="362.5" font-size="10" textLength="25.2" lengthAdjust="spacingAndGlyphs">26 °C</text>
<line x1="766.7" y1="325.09999999999997" x2="766.7" y2="332.09999999999997" stroke="#555" stroke-width="1.1"/>
<text x="747.1" y="348.8" font-size="10.4" textLength="39.3" lengthAdjust="spacingAndGlyphs">0.00340</text>
<text x="756.2" y="362.5" font-size="10" textLength="22.5" lengthAdjust="spacingAndGlyphs">21°C</text>
<text x="554" y="379" font-size="11" textLength="58.8" lengthAdjust="spacingAndGlyphs">(1/T) in K<tspan font-size="7" dy="-4.5">-1</tspan></text>
<text x="567.3" y="395.5" font-size="10.2" textLength="32.5" lengthAdjust="spacingAndGlyphs">T in °C</text>
<text transform="translate(372.6,218.5) rotate(-90)" font-size="11" textLength="55.3" lengthAdjust="spacingAndGlyphs">Ln(k in s<tspan font-size="7" dy="-4.5">-1</tspan><tspan dy="4.5">)</tspan></text>
<polyline points="487.7,96.2 520.4,94 552.9,95.4 587.8,96.8 621.6,94 657.4,97.6 691.8,95.4" fill="none" stroke="#222" stroke-width="1.1" stroke-dasharray="2 1.5"/>
<path d="M487.7,85.5 V106.9 M484.9,85.5 h5.6 M484.9,106.9 h5.6" stroke="#222" stroke-width="1.1" fill="none"/>
<rect x="484.7" y="93.2" width="6" height="6" fill="#111"/>
<path d="M520.4,83.3 V104.7 M517.6,83.3 h5.6 M517.6,104.7 h5.6" stroke="#222" stroke-width="1.1" fill="none"/>
<rect x="517.4" y="91" width="6" height="6" fill="#111"/>
<path d="M552.9,84.7 V106.10000000000001 M550.1,84.7 h5.6 M550.1,106.10000000000001 h5.6" stroke="#222" stroke-width="1.1" fill="none"/>
<rect x="549.9" y="92.4" width="6" height="6" fill="#111"/>
<path d="M587.8,86.1 V107.5 M585.0,86.1 h5.6 M585.0,107.5 h5.6" stroke="#222" stroke-width="1.1" fill="none"/>
<rect x="584.8" y="93.8" width="6" height="6" fill="#111"/>
<path d="M621.6,83.3 V104.7 M618.8000000000001,83.3 h5.6 M618.8000000000001,104.7 h5.6" stroke="#222" stroke-width="1.1" fill="none"/>
<rect x="618.6" y="91" width="6" height="6" fill="#111"/>
<path d="M657.4,86.89999999999999 V108.3 M654.6,86.89999999999999 h5.6 M654.6,108.3 h5.6" stroke="#222" stroke-width="1.1" fill="none"/>
<rect x="654.4" y="94.6" width="6" height="6" fill="#111"/>
<path d="M691.8,84.7 V106.10000000000001 M689.0,84.7 h5.6 M689.0,106.10000000000001 h5.6" stroke="#222" stroke-width="1.1" fill="none"/>
<rect x="688.8" y="92.4" width="6" height="6" fill="#111"/>
<text x="495" y="73.4" font-size="10.4" textLength="53.5" lengthAdjust="spacingAndGlyphs">13-dm-BR,</text>
<text x="552" y="73.4" font-size="10.4" textLength="15.4" lengthAdjust="spacingAndGlyphs">BR</text>
<text x="568" y="74.3" font-size="11.5" class="b dj" textLength="12" lengthAdjust="spacingAndGlyphs">→</text>
<text x="583.1" y="73.4" font-size="10.4" class="b">P</text>
<text x="590.6" y="75.6" font-size="6.8" class="b">1</text>
<text x="595" y="68.7" font-size="6.6" class="b" textLength="10.2" lengthAdjust="spacingAndGlyphs">DM</text>
<text x="606.3" y="73.4" font-size="10.4">, E</text>
<text x="620.3" y="75.6" font-size="6.8" class="b">a</text>
<text x="628.5" y="73.4" font-size="10.4" textLength="24.2" lengthAdjust="spacingAndGlyphs">&lt; 0.6</text>
<line x1="473.5" y1="211.8" x2="611.5" y2="271" stroke="#111" stroke-width="1.8"/>
<path d="M475.5,211.2 L478.1,215.9 L472.9,215.9 z" fill="#111"/>
<path d="M511,226.7 L513.6,231.4 L508.4,231.4 z" fill="#111"/>
<path d="M545.3,238.79999999999998 L547.9,243.5 L542.6999999999999,243.5 z" fill="#111"/>
<path d="M578,249.5 L580.6,254.20000000000002 L575.4,254.20000000000002 z" fill="#111"/>
<path d="M611.5,274.2 L614.1,278.9 L608.9,278.9 z" fill="#111"/>
<line x1="471.3" y1="246.1" x2="609.6" y2="292.5" stroke="#111" stroke-width="1.7" stroke-dasharray="4 3.7"/>
<line x1="470.7" y1="243.5" x2="470.7" y2="248" stroke="#111" stroke-width="1"/>
<circle cx="470.7" cy="248.8" r="2.8" fill="#111"/>
<circle cx="507.7" cy="255.5" r="2.8" fill="#111"/>
<circle cx="539.9" cy="263" r="2.8" fill="#111"/>
<circle cx="578" cy="281" r="2.8" fill="#111"/>
<circle cx="609.6" cy="296" r="2.8" fill="#111"/>
<line x1="650.4" y1="264.7" x2="615.5" y2="264.7" stroke="#222" stroke-width="1.15" marker-end="url(#ahs)" />
<line x1="650.4" y1="295.4" x2="620.4" y2="295.4" stroke="#222" stroke-width="1.15" marker-end="url(#ahs)" />
<text x="655.8" y="249.7" font-size="10.4">WT,</text>
<text x="677.7" y="249.7" font-size="10.4">BR</text>
<text x="692.3" y="250.29999999999998" font-size="10" class="b dj" textLength="10" lengthAdjust="spacingAndGlyphs">→</text>
<text x="702.5" y="249.7" font-size="10.4" class="b">P</text>
<text x="709.7" y="249.7" font-size="10.4" textLength="26.4" lengthAdjust="spacingAndGlyphs">, pH 8</text>
<text x="655.8" y="262.5" font-size="10.4" textLength="91.7" lengthAdjust="spacingAndGlyphs">E<tspan font-size="6.8" dy="2.2">a</tspan><tspan dy="-2.2"> = 28 ± 5 kcal/mol</tspan></text>
<text x="655.8" y="295.8" font-size="10.4">WT,</text>
<text x="677.7" y="295.8" font-size="10.4">BR</text>
<text x="692.3" y="296.40000000000003" font-size="10" class="b dj" textLength="10" lengthAdjust="spacingAndGlyphs">→</text>
<text x="702.5" y="295.8" font-size="10.4" class="b">P</text>
<text x="709.7" y="295.8" font-size="10.4" textLength="26.4" lengthAdjust="spacingAndGlyphs">, pH 7</text>
<text x="655.8" y="308.5" font-size="10.4" textLength="91.7" lengthAdjust="spacingAndGlyphs">E<tspan font-size="6.8" dy="2.2">a</tspan><tspan dy="-2.2"> = 22 ± 5 kcal/mol</tspan></text>
</g>
</g></svg></body></html>
